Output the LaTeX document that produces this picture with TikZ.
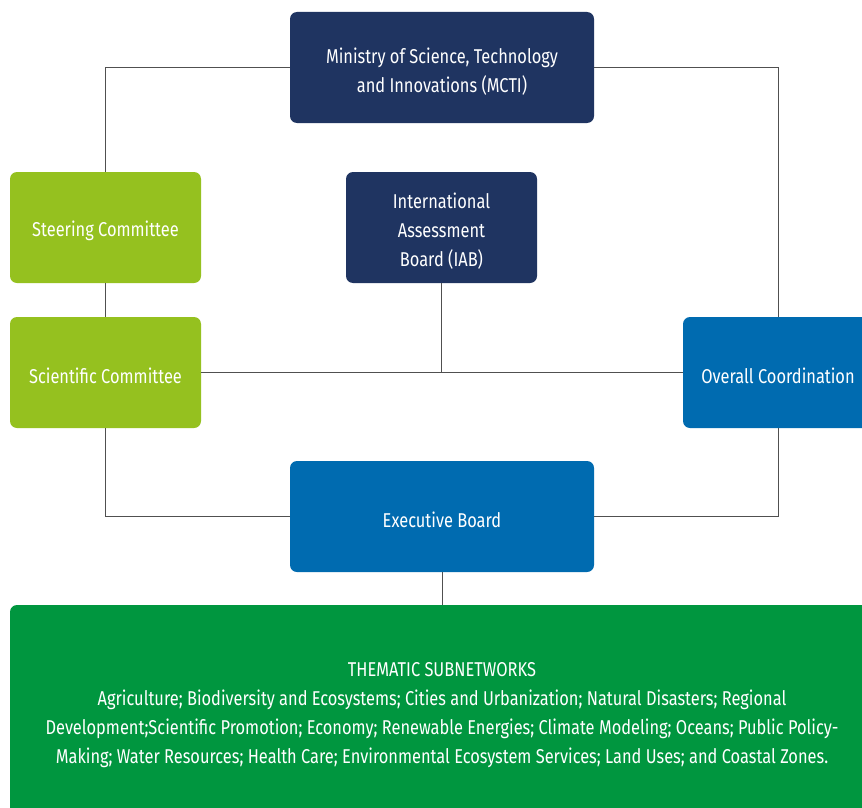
\documentclass[tikz,border=0pt]{standalone}
\usepackage{fontspec}
\setmainfont[FakeStretch=0.82]{Fira Sans}
\definecolor{navy}{HTML}{1F3461}
\definecolor{lime}{HTML}{95C11F}
\definecolor{midblue}{HTML}{006BB0}
\definecolor{forest}{HTML}{00963F}
\definecolor{linegray}{HTML}{505050}
\newcommand\pushdn{\rule{0pt}{23pt}}
\tikzset{
  box/.style={rectangle, rounded corners=7pt, text=white, align=center,
    font=\fontsize{20}{29}\selectfont, inner sep=0pt},
  smallbox/.style={box, minimum width=191pt, minimum height=111pt},
  widebox/.style={box, minimum width=304pt, minimum height=111pt},
  conn/.style={draw=linegray, line width=0.9pt}
}
\begin{document}
\begin{tikzpicture}[x=1pt,y=-1pt]
\useasboundingbox (0,0) rectangle (862,808);
\clip (0,0) rectangle (862,808);
\fill[white] (0,0) rectangle (862,808);
\node[widebox, fill=navy] (mcti) at (442,67.5) {\pushdn Ministry of Science, Technology\\and Innovations (MCTI)};
\node[smallbox, fill=lime] (steer) at (105.5,227.5) {\pushdn Steering Committee};
\node[smallbox, fill=navy] (iab) at (441.5,227.5) {\pushdn International\\Assessment\\Board (IAB)};
\node[smallbox, fill=lime] (sci) at (105.5,372.5) {\pushdn Scientific Committee};
\node[smallbox, fill=midblue, minimum width=190pt] (over) at (778,372.5) {\pushdn Overall Coordination};
\node[widebox, fill=midblue] (exec) at (442,516.5) {\pushdn Executive Board};
\node[box, fill=forest, minimum width=864pt, minimum height=212pt] (them) at (442,711)
  {\pushdn THEMATIC SUBNETWORKS\\
   Agriculture; Biodiversity and Ecosystems; Cities and Urbanization; Natural Disasters; Regional\\
   Development;Scientific Promotion; Economy; Renewable Energies; Climate Modeling; Oceans; Public Policy-\\
   Making; Water Resources; Health Care; Environmental Ecosystem Services; Land Uses; and Coastal Zones.};
\draw[conn] (mcti.west) -| (steer.north);
\draw[conn] (mcti.east) -| (over.north);
\draw[conn] (steer.south) -- (sci.north);
\draw[conn] (sci.east) -- (over.west);
\draw[conn] (iab.south) -- (iab.south |- sci.east);
\draw[conn] (sci.south) |- (exec.west);
\draw[conn] (over.south) |- (exec.east);
\draw[conn] (exec.south) -- (them.north);
\end{tikzpicture}
\end{document}
